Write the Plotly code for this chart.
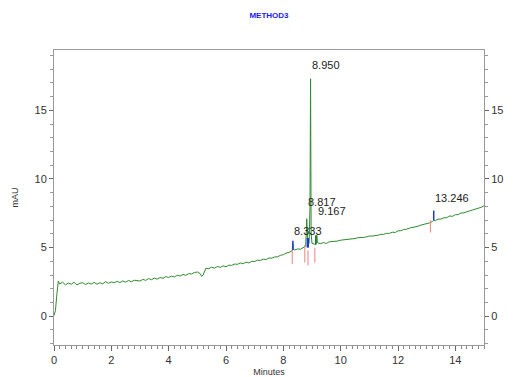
import plotly.graph_objects as go

# ---- data ----
times = [
    0.0, 0.05, 0.1, 0.15, 0.2, 0.3, 0.4, 0.5, 0.6, 0.7, 0.8, 0.9,
    1.0, 1.1, 1.2, 1.3, 1.4, 1.5, 1.6, 1.7, 1.8, 1.9,
    2.0, 2.1, 2.2, 2.3, 2.4, 2.5, 2.6, 2.7, 2.8, 2.9,
    3.0, 3.1, 3.2, 3.3, 3.4, 3.5, 3.6, 3.7, 3.8, 3.9,
    4.0, 4.1, 4.2, 4.3, 4.4, 4.5, 4.6, 4.7, 4.8, 4.9,
    5.0, 5.1, 5.15, 5.2, 5.3, 5.4, 5.5, 5.6, 5.7, 5.8, 5.9,
    6.0, 6.1, 6.2, 6.3, 6.4, 6.5, 6.6, 6.7, 6.8, 6.9,
    7.0, 7.1, 7.2, 7.3, 7.4, 7.5, 7.6, 7.7, 7.8, 7.9,
    8.0, 8.1, 8.2, 8.3, 8.32, 8.333, 8.35, 8.4, 8.5, 8.6, 8.7, 8.78, 8.817, 8.85,
    8.9, 8.93, 8.95, 8.97, 9.0, 9.1, 9.15, 9.167, 9.19, 9.3, 9.4, 9.5, 9.6, 9.7, 9.8, 9.9,
    10.0, 10.1, 10.2, 10.3, 10.4, 10.5, 10.6, 10.7, 10.8, 10.9,
    11.0, 11.1, 11.2, 11.3, 11.4, 11.5, 11.6, 11.7, 11.8, 11.9,
    12.0, 12.1, 12.2, 12.3, 12.4, 12.5, 12.6, 12.7, 12.8, 12.9,
    13.0, 13.1, 13.2, 13.246, 13.3, 13.4, 13.5, 13.6, 13.7, 13.8, 13.9,
    14.0, 14.1, 14.2, 14.3, 14.4, 14.5, 14.6, 14.7, 14.8, 14.9, 15.0,
]
signal = [
    0.05, 0.4, 1.6, 2.55, 2.35, 2.48, 2.28, 2.42, 2.33, 2.47, 2.28, 2.4,
    2.44, 2.31, 2.42, 2.34, 2.46, 2.33, 2.44, 2.36, 2.52, 2.4,
    2.5, 2.43, 2.54, 2.45, 2.57, 2.48, 2.6, 2.51, 2.62, 2.6,
    2.56, 2.68, 2.61, 2.74, 2.66, 2.78, 2.7, 2.82, 2.76, 2.88,
    2.82, 2.92, 2.86, 2.98, 2.93, 3.04, 2.98, 3.1, 3.08, 3.18,
    3.22, 3.1, 2.9, 3.0, 3.5, 3.46, 3.57, 3.5, 3.62, 3.56, 3.67,
    3.6, 3.72, 3.7, 3.8, 3.78, 3.88, 3.82, 3.94, 3.88, 4.0,
    3.98, 4.08, 4.06, 4.16, 4.13, 4.24, 4.23, 4.32, 4.33, 4.44,
    4.48, 4.6, 4.64, 4.77, 4.8, 5.3, 4.85, 4.83, 4.9, 4.88, 4.97, 5.1, 7.1, 5.3,
    5.3, 8.0, 17.3, 6.0, 5.3, 5.25, 5.3, 5.9, 5.35, 5.28, 5.37, 5.3, 5.42, 5.43, 5.44, 5.48,
    5.54, 5.56, 5.57, 5.6, 5.62, 5.66, 5.72, 5.72, 5.74, 5.78,
    5.84, 5.84, 5.86, 5.9, 5.97, 5.96, 6.04, 6.03, 6.12, 6.1,
    6.22, 6.23, 6.32, 6.34, 6.42, 6.45, 6.52, 6.56, 6.64, 6.68,
    6.77, 6.8, 6.9, 7.0, 6.96, 7.07, 7.08, 7.17, 7.18, 7.3, 7.28,
    7.4, 7.4, 7.52, 7.53, 7.62, 7.68, 7.74, 7.78, 7.87, 7.93, 8.05,
]

# integrated peaks (retention time labels)
peak_times = [8.333, 8.817, 8.950, 9.167, 13.246]
peak_labels = ["8.333", "8.817", "8.950", "9.167", "13.246"]

# apex marker ticks (blue)
apex_t = [8.333, 8.84, 8.87, 13.246]
apex_lo = [4.85, 5.0, 5.0, 7.0]
apex_hi = [5.5, 5.7, 5.7, 7.7]
# apex marker for 9.167 (green)
apex2_t = [9.13]
apex2_lo = [5.2]
apex2_hi = [5.9]
# baseline start/end markers (pink)
base_t = [8.31, 8.75, 8.86, 9.10, 13.13]
base_hi = [5.0, 5.2, 4.8, 5.0, 7.0]
base_lo = [3.8, 3.9, 3.7, 3.9, 6.1]

# label layout positions (y of label centre, in mAU)
label_y = [6.2, 8.3, 18.3, 7.65, 8.6]


def seg(ts, lo, hi):
    xs, ys = [], []
    for t, a, b in zip(ts, lo, hi):
        xs += [t, t, None]
        ys += [a, b, None]
    return xs, ys


fig = go.Figure()
fig.add_trace(go.Scatter(x=times, y=signal, mode="lines",
                         line=dict(color="#2e8b2e", width=1), showlegend=False))
bx, by = seg(base_t, base_lo, base_hi)
fig.add_trace(go.Scatter(x=bx, y=by, mode="lines",
                         line=dict(color="#f08080", width=1), showlegend=False))
ax, ay = seg(apex_t, apex_lo, apex_hi)
fig.add_trace(go.Scatter(x=ax, y=ay, mode="lines",
                         line=dict(color="#1a3adf", width=1.5), showlegend=False))
gx, gy = seg(apex2_t, apex2_lo, apex2_hi)
fig.add_trace(go.Scatter(x=gx, y=gy, mode="lines",
                         line=dict(color="#1f7a3a", width=1.5), showlegend=False))
# invisible trace to activate right axis
fig.add_trace(go.Scatter(x=[0], y=[0], yaxis="y2", mode="markers",
                         marker=dict(opacity=0), showlegend=False, hoverinfo="skip"))

for t, lab, ly in zip(peak_times, peak_labels, label_y):
    fig.add_annotation(x=t, y=ly, text=lab, showarrow=False, xanchor="left",
                       yanchor="middle", xshift=-1,
                       font=dict(family="Liberation Sans, Arial", size=11, color="#222"))

yr = [-2.1, 19.4]
axis_font = dict(family="Liberation Sans, Arial", size=11, color="#333")
fig.update_layout(
    width=521, height=377,
    margin=dict(l=54, r=37, t=50, b=32, autoexpand=False),
    paper_bgcolor="white", plot_bgcolor="white",
    title=dict(text="<b>METHOD3</b>", x=0.5, xref="paper", y=0.96, yref="container",
               xanchor="center", yanchor="middle",
               font=dict(family="Liberation Sans Narrow, Arial", size=8, color="#1a1aff")),
    xaxis=dict(range=[0, 15], dtick=2, tick0=0, showline=True, linecolor="#999",
               linewidth=1, mirror=True, ticks="outside", ticklen=5, tickcolor="#666",
               showgrid=False, zeroline=False, tickfont=axis_font, automargin=False,
               minor=dict(dtick=0.2, ticks="outside", ticklen=3, tickcolor="#888"),
               title=dict(text="Minutes", standoff=8,
                          font=dict(family="Liberation Sans, Arial", size=9, color="#333"))),
    yaxis=dict(range=yr, dtick=5, tick0=0, showline=True, linecolor="#999",
               linewidth=1, ticks="outside", ticklen=4, tickcolor="#666",
               showgrid=False, zeroline=False, tickfont=axis_font, automargin=False,
               minor=dict(dtick=1, ticks="outside", ticklen=3, tickcolor="#999"),
               title=dict(text="mAU", standoff=14,
                          font=dict(family="Liberation Sans, Arial", size=9, color="#333"))),
    yaxis2=dict(range=yr, dtick=5, tick0=0, overlaying="y", side="right",
                showline=True, linecolor="#999", linewidth=1, ticks="outside",
                ticklen=4, tickcolor="#666", showgrid=False, zeroline=False,
                tickfont=axis_font, automargin=False,
                minor=dict(dtick=1, ticks="outside", ticklen=3, tickcolor="#999")),
)

fig.write_html("out.html")
